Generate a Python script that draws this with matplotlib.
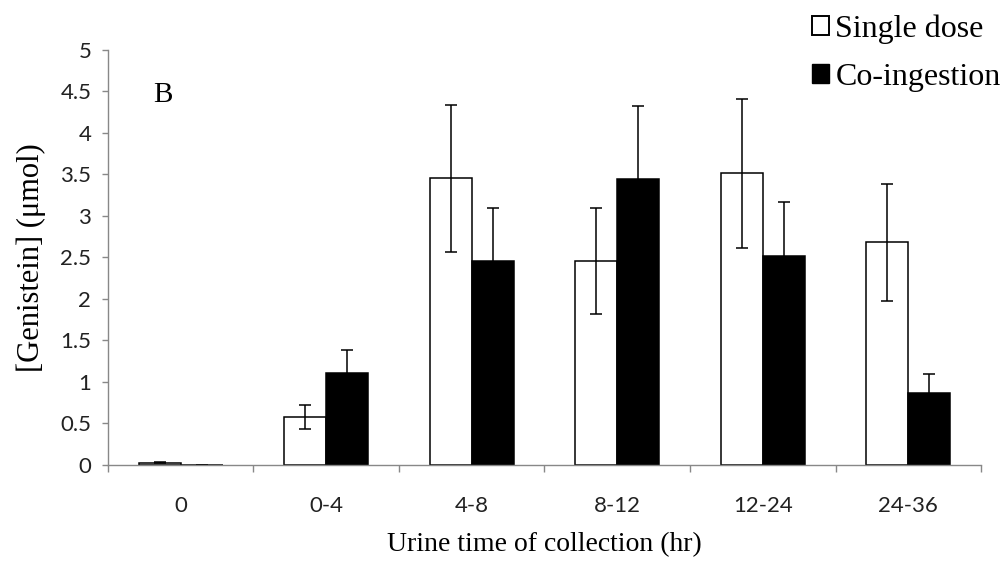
import numpy as np
import matplotlib.pyplot as plt
from matplotlib.patches import Rectangle

categories = ["0", "0-4", "4-8", "8-12", "12-24", "24-36"]
single_dose = [0.03, 0.58, 3.45, 2.46, 3.51, 2.68]
single_err = [0.01, 0.145, 0.88, 0.64, 0.90, 0.70]
co_ingestion = [0.0, 1.11, 2.46, 3.44, 2.52, 0.87]
co_err = [0.005, 0.28, 0.63, 0.88, 0.65, 0.22]

fig = plt.figure(figsize=(10.07, 5.62), dpi=100)
ax = fig.add_axes([0.1072, 0.1726, 0.867, 0.739])

x = np.arange(len(categories))
w = 0.29
err_kw = dict(ecolor="black", elinewidth=1.1, capsize=4.3, capthick=1.1)
ax.bar(x - w / 2, single_dose, w, color="white", edgecolor="black",
       linewidth=1.1, yerr=single_err, error_kw=err_kw, label="Single dose")
ax.bar(x + w / 2, co_ingestion, w, color="black", edgecolor="black",
       linewidth=1.1, yerr=co_err, error_kw=err_kw, label="Co-ingestion")

ax.set_xlim(-0.5, len(categories) - 0.5)
ax.set_ylim(0, 5)
ax.set_yticks(np.arange(0, 5.01, 0.5))
ax.set_yticklabels(["0", "0.5", "1", "1.5", "2", "2.5", "3", "3.5", "4", "4.5", "5"])
ax.set_xticks(x)
ax.set_xticklabels(categories)
ax.set_xticks(np.arange(-0.5, len(categories), 1.0), minor=True)
ax.tick_params(axis="x", which="major", length=0, pad=22)
ax.tick_params(axis="x", which="minor", length=5, color="#888888", width=1)
ax.tick_params(axis="y", length=4, color="#888888", width=1, pad=8)
for lab in ax.get_xticklabels() + ax.get_yticklabels():
    lab.set_fontfamily("Lato")
    lab.set_fontsize(16)
    lab.set_color("#222222")

for s in ["top", "right"]:
    ax.spines[s].set_visible(False)
for s in ["left", "bottom"]:
    ax.spines[s].set_color("#888888")
    ax.spines[s].set_linewidth(1)

ax.set_xlabel("Urine time of collection (hr)", family="Liberation Serif",
              fontsize=20, labelpad=12)
ax.set_ylabel("[Genistein] (μmol)", family="Liberation Serif",
              fontsize=22, labelpad=10)
ax.text(0.063, 0.89, "B", transform=ax.transAxes, family="Liberation Serif",
        fontsize=21, ha="center", va="center")

handles = [Rectangle((0, 0), 1, 1, facecolor="white", edgecolor="black", linewidth=1.4),
           Rectangle((0, 0), 1, 1, facecolor="black", edgecolor="black")]
fig.legend(handles, ["Single dose", "Co-ingestion"], loc="upper left",
           bbox_to_anchor=(0.79, 1.003), frameon=False, borderpad=0,
           prop={"family": "Liberation Serif", "size": 23},
           handlelength=0.55, handleheight=0.55, handletextpad=0.2,
           labelspacing=0.6)

fig.savefig("out.png", dpi=100)
